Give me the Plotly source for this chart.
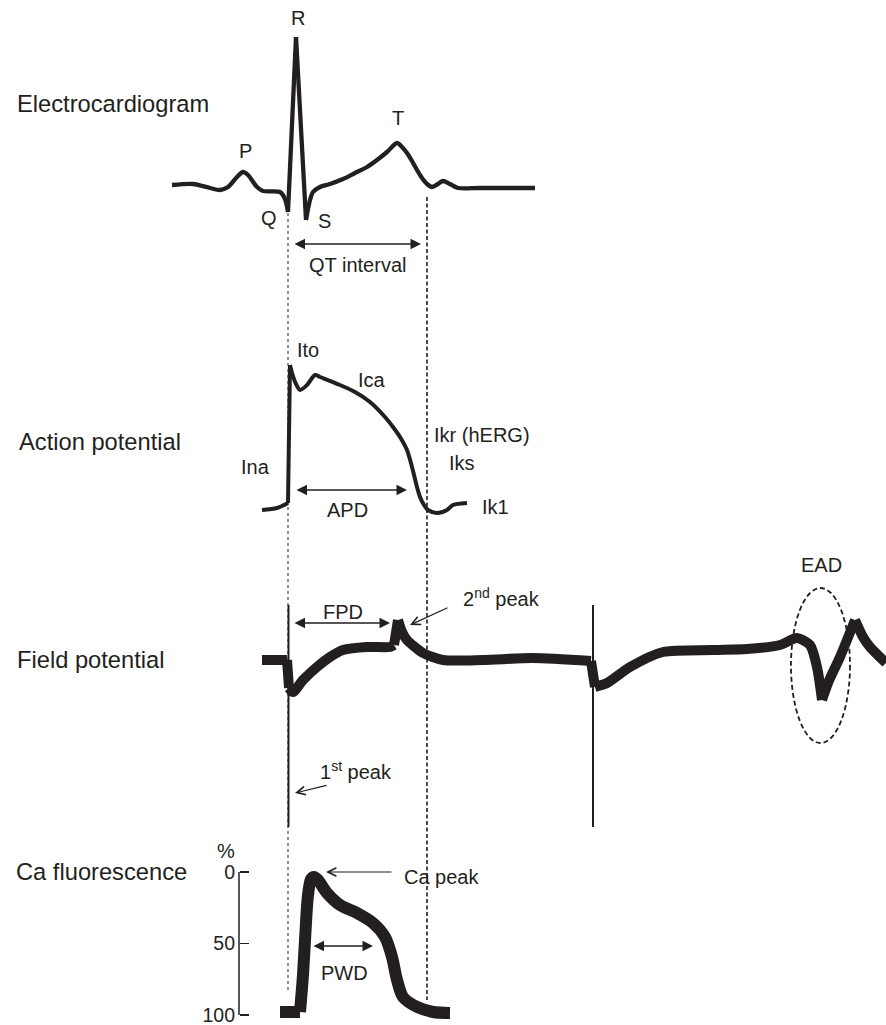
import plotly.graph_objects as go

W, H = 886, 1025
INK = "#231f20"
FONT = "Liberation Sans, Arial, Helvetica, sans-serif"

# ---------------- data (time in ms, shared by all panels) ----------------
ecg_t = [-232, -190, -156, -136, -120, -102, -90, -80, -62, -50, -16, -6, 0, 16, 36, 44, 50, 64,
         84, 110, 134, 158, 178, 198, 218, 228, 238, 248, 258, 268, 278, 288, 300, 310, 324, 340, 384, 494]
ecg_mv = [0.03, 0.04, 0.00, -0.02, 0.01, 0.11, 0.16, 0.13, 0.01, -0.03, -0.04, -0.11, -0.24, 1.51, -0.32, -0.12, -0.04, 0.01,
          0.04, 0.09, 0.15, 0.21, 0.28, 0.36, 0.45, 0.41, 0.35, 0.27, 0.18, 0.10, 0.04, 0.01, 0.04, 0.07, 0.04, 0.00, 0.00, 0.00]
ecg_kinks = [12, 13, 14]

ap_t = [-52, -22, 0, 4, 8, 16, 24, 38, 54, 64, 104, 134, 164, 194, 210, 224, 238, 248, 258, 264, 272, 280, 298, 318, 330, 358]
ap_mv = [-85, -83.4, -79.4, 31, 24.6, 15.8, 11, 15, 23, 21.4, 15, 9.4, 1.4, -10.6, -18.6, -26.6, -37, -50.6, -66.6,
         -74.6, -81, -85, -87.4, -85, -81, -79.4]
ap_kinks = [2, 3]

fp_t = [-52, -2, 2, 10, 30, 58, 84, 110, 158, 204, 212, 220, 228, 238, 270, 310, 390, 490, 606, 614, 638, 684,
        750, 850, 918, 984, 1018, 1044, 1058, 1068, 1080, 1104, 1134, 1150, 1164, 1196]
fp_uv = [0, 0, -280, -320, -200, -70, 30, 100, 130, 130, 150, 400, 280, 200, 70, 0, 0, 20, -10, -270, -230, -70,
         80, 100, 110, 150, 220, 150, -70, -400, -230, 30, 400, 230, 130, -30]
fp_kinks = [1, 2, 10, 11, 18, 19, 29, 32]
stim_t = [1, 610]
stim_range_uv = [550, -1670]

ca_t = [-16, 24, 30, 34, 40, 46, 52, 60, 78, 104, 138, 170, 194, 208, 218, 230, 258, 290, 324]
ca_pct = [97.9, 97.9, 72, 47.6, 16.1, 4.9, 3.5, 5.6, 14.7, 23.1, 28.7, 35.7, 45.5, 59.4, 75.5, 87.4, 94.4, 97.9, 98.6]
ca_kinks = [1]
ca_ticks = [0, 50, 100]

guide_t = [0, 278]          # QT / APD alignment guides
ead_t = [1006, 1124]        # EAD ellipse extent (time)
ead_uv = [720, -830]        # EAD ellipse extent (amplitude)

# ---------------- helpers ----------------
def px(x):
    return x / W

def py(y):
    return 1 - y / H

fig = go.Figure()

def add_wave(t, v, kinks, yaxis, width, smoothing=0.8):
    cuts = [0] + sorted(kinks) + [len(t) - 1]
    for a, b in zip(cuts[:-1], cuts[1:]):
        if b <= a:
            continue
        fig.add_trace(go.Scatter(x=t[a:b + 1], y=v[a:b + 1], mode="lines",
                                 line=dict(color=INK, width=width,
                                           shape="spline" if b - a > 1 else "linear",
                                           smoothing=smoothing),
                                 xaxis="x", yaxis=yaxis, hoverinfo="skip"))

add_wave(ecg_t, ecg_mv, ecg_kinks, "y", 4.3)
add_wave(ap_t, ap_mv, ap_kinks, "y2", 4)
add_wave(fp_t, fp_uv, fp_kinks, "y3", 10, 0.7)
for s in stim_t:
    fig.add_trace(go.Scatter(x=[s, s], y=stim_range_uv, mode="lines", line=dict(color=INK, width=2),
                             xaxis="x", yaxis="y3", hoverinfo="skip"))
add_wave(ca_t, ca_pct, ca_kinks, "y4", 12, 0.8)
# Ca scale bar line (0-100 %)
fig.add_trace(go.Scatter(x=[-98, -98], y=[ca_ticks[0], ca_ticks[-1]], mode="lines",
                         line=dict(color=INK, width=1.5), xaxis="x", yaxis="y4", hoverinfo="skip"))

shapes = [
    dict(type="line", xref="x", yref="paper", x0=guide_t[0], x1=guide_t[0], y0=py(213), y1=py(992),
         line=dict(color=INK, width=1, dash="3px,3px")),
    dict(type="line", xref="x", yref="paper", x0=guide_t[1], x1=guide_t[1], y0=py(197), y1=py(1000),
         line=dict(color=INK, width=1.6, dash="4px,2.5px")),
    dict(type="circle", xref="x", yref="y3", x0=ead_t[0], x1=ead_t[1], y0=ead_uv[0], y1=ead_uv[1],
         line=dict(color=INK, width=1.8, dash="5px,3px")),
]

ann = []

def lab(text, x, y, size=20, anchor="center"):
    ann.append(dict(text=text, x=px(x), y=py(y), xref="paper", yref="paper", showarrow=False,
                    xanchor=anchor, yanchor="middle", font=dict(family=FONT, size=size, color=INK)))

def darrow(x0, x1, y):
    ann.append(dict(text="", x=px(x1), y=py(y), xref="paper", yref="paper", showarrow=True,
                    ax=x0 - x1, ay=0, arrowside="end+start", arrowhead=2, startarrowhead=2,
                    arrowsize=1.4, startarrowsize=1.4, arrowwidth=1.5, arrowcolor=INK,
                    standoff=0, startstandoff=0))

def sarrow(hx, hy, tx, ty):
    ann.append(dict(text="", x=px(hx), y=py(hy), xref="paper", yref="paper", showarrow=True,
                    ax=tx - hx, ay=ty - hy, arrowhead=5, arrowsize=1.4, arrowwidth=1.2,
                    arrowcolor=INK, standoff=0, startstandoff=0))

# panel titles
lab("Electrocardiogram", 15, 104, 23.7, "left")
lab("Action potential", 17, 442, 23.7, "left")
lab("Field potential", 15, 660, 23.7, "left")
lab("Ca fluorescence", 14, 872, 23.7, "left")

# ECG labels
lab("R", 298, 18)
lab("P", 245, 151)
lab("T", 398, 118)
lab("Q", 269, 218)
lab("S", 324, 221)
lab("QT interval", 357, 265)
darrow(293, 421, 244)

# AP labels
lab("Ito", 308, 350)
lab("Ica", 372, 380)
lab("Ikr (hERG)", 432, 435, 20, "left")
lab("Iks", 447, 463, 20, "left")
lab("Ina", 255, 467)
lab("APD", 347, 510)
lab("Ik1", 480, 507, 20, "left")
darrow(295, 407, 490)

# FP labels
lab("FPD", 343, 612)
darrow(293, 390, 623)
lab("2<sup>nd</sup> peak", 461, 597, 20, "left")
sarrow(410, 625, 449, 607)
lab("1<sup>st</sup> peak", 318, 770, 20, "left")
sarrow(295, 793, 328, 785)
lab("EAD", 821, 565)

# Ca labels
lab("%", 226, 851)
lab("Ca peak", 402, 877, 20, "left")
sarrow(326, 872, 393, 872)
lab("PWD", 344, 973)
darrow(312, 373, 946)

hidden = dict(visible=False, showgrid=False, zeroline=False)

fig.update_layout(
    width=W, height=H, margin=dict(l=0, r=0, t=0, b=0),
    paper_bgcolor="white", plot_bgcolor="white", showlegend=False,
    font=dict(family=FONT, color=INK),
    xaxis=dict(range=[(0 - 288) * 2, (W - 288) * 2], domain=[0, 1], **hidden),
    yaxis=dict(domain=[py(260), 1], range=[(188 - 260) / 100, 188 / 100], anchor="x", **hidden),
    yaxis2=dict(domain=[py(540), py(300)], range=[-85 + (510 - 540) * 0.8, -85 + (510 - 300) * 0.8],
                anchor="x", **hidden),
    yaxis3=dict(domain=[py(840), py(540)], range=[(660 - 840) * 10, (660 - 540) * 10], anchor="x", **hidden),
    yaxis4=dict(domain=[0, py(840)], range=[(1025 - 872) / 1.43, (840 - 872) / 1.43],
                anchor="free", position=px(239), side="left", showgrid=False, zeroline=False,
                showline=False, tickvals=ca_ticks, ticktext=[str(v) for v in ca_ticks],
                ticks="inside", ticklen=9, tickwidth=1.5, tickcolor=INK, ticklabelstandoff=4,
                ticklabeloverflow="allow",
                tickfont=dict(family=FONT, size=19.5, color=INK)),
    shapes=shapes, annotations=ann,
)

fig.write_html("out.html", config={"displayModeBar": False, "staticPlot": True},
               post_script="document.body.style.margin='0';document.body.style.overflow='hidden';")
